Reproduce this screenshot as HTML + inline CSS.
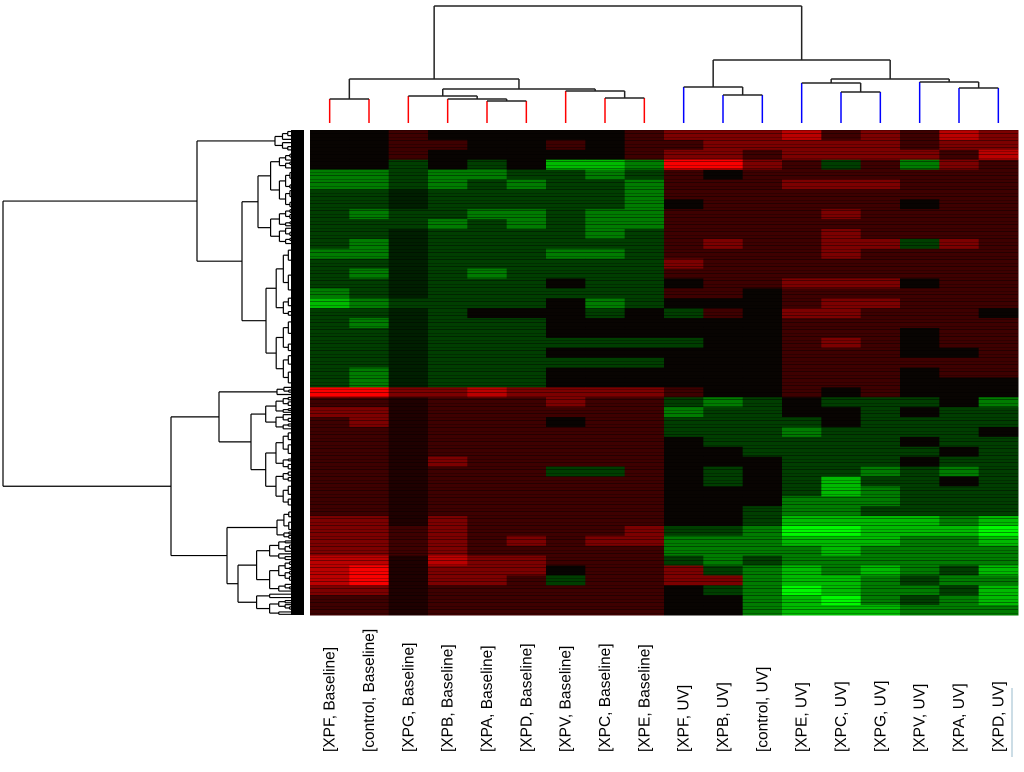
<!DOCTYPE html>
<html><head><meta charset="utf-8"><style>
body{margin:0;background:#fff;}
svg{display:block;font-family:"Liberation Sans",sans-serif;}
</style></head><body>
<svg id="chart" width="1024" height="772" viewBox="0 0 1024 772" xmlns="http://www.w3.org/2000/svg">
<defs><pattern id="stripes" width="10" height="7" patternUnits="userSpaceOnUse"><rect x="0" y="0" width="10" height="1" fill="rgba(0,0,0,0.4)"/><rect x="0" y="4" width="10" height="1" fill="rgba(0,0,0,0.25)"/></pattern></defs>
<g id="hm"></g>
<rect x="310" y="130" width="708" height="485" fill="url(#stripes)"/>
<g id="topdend" fill="none" stroke-width="1.5"></g>
<g id="leftdend" fill="none" stroke="#000" stroke-width="1.2"></g>
<rect x="291" y="130" width="13" height="485" fill="#000"/>
<g id="labels"></g>
<line x1="1012" y1="688" x2="1012" y2="757" stroke="#9bc" stroke-width="1"/>
</svg>
<script>
const columns=["[XPF, Baseline]","[control, Baseline]","[XPG, Baseline]","[XPB, Baseline]","[XPA, Baseline]","[XPD, Baseline]","[XPV, Baseline]","[XPC, Baseline]","[XPE, Baseline]","[XPF, UV]","[XPB, UV]","[control, UV]","[XPE, UV]","[XPC, UV]","[XPG, UV]","[XPV, UV]","[XPA, UV]","[XPD, UV]"];
const rowsValues=[
[0,0,1,0,0,0,0,0,1,2,2,2,3,1,2,1,3,2],
[0,0,1,1,0,0,1,0,1,1,2,2,2,2,2,1,2,2],
[0,0,1,0,0,0,0,0,1,2,2,1,2,2,2,2,1,3],
[0,0,-1,0,-1,0,-3,-3,-2,4,4,2,1,-1,1,-2,2,1],
[-2,-2,-1,-2,-2,-1,-1,-2,-1,1,0,1,1,1,1,1,1,1],
[-2,-2,-1,-2,-1,-2,-1,-1,-2,1,1,1,2,2,2,1,1,1],
[-1,-1,-0.5,-1,-1,-1,-1,-1,-2,1,1,1,1,1,1,1,1,1],
[-1,-1,-0.5,-1,-1,-1,-1,-1,-2,0,1,1,1,1,1,0,1,1],
[-1,-2,-1,-1,-2,-2,-1,-2,-2,1,1,1,1,2,1,1,1,1],
[-1,-1,-1,-2,-1,-2,-1,-2,-2,1,1,1,1,1,1,1,1,1],
[-1,-1,-0.5,-1,-1,-1,-1,-2,-1,1,1,1,1,2,1,1,1,1],
[-1,-2,-0.5,-1,-1,-1,-1,-1,-1,1,2,1,1,2,2,-1,2,1],
[-2,-2,-0.5,-1,-1,-1,-2,-2,-1,1,1,1,1,2,1,1,1,1],
[-1,-1,-0.5,-1,-1,-1,-1,-1,-1,2,1,1,1,1,1,1,1,1],
[-1,-2,-0.5,-1,-2,-1,-1,-1,-1,1,1,1,1,1,1,1,1,1],
[-1,-1,-0.5,-1,-1,-1,0,-1,-1,0,1,1,2,2,2,0,1,1],
[-2,-1,-0.5,-1,-1,-1,-1,-1,-1,1,1,0,1,1,1,1,1,1],
[-3,-2,-1,-1,-1,-1,0,-2,-1,0,0,0,1,2,2,1,1,1],
[-1,-1,-0.5,-1,0,0,0,-1,0,-1,1,0,2,2,1,1,1,0],
[-1,-2,-0.5,-1,-1,-1,0,0,0,0,0,0,1,1,1,1,1,1],
[-1,-1,-0.5,-1,-1,-1,0,0,0,0,0,0,1,1,1,0,1,1],
[-1,-1,-0.5,-1,-1,-1,-1,-1,-1,-1,0,0,1,2,1,0,1,1],
[-1,-1,-0.5,-1,-1,-1,0,0,0,0,0,0,1,1,1,0,0,1],
[-1,-1,-0.5,-1,-1,-1,-1,-1,-1,0,0,0,1,1,1,1,1,1],
[-1,-2,-0.5,-1,-1,-1,0,0,0,0,0,0,1,1,1,0,1,1],
[-1,-2,-0.5,-1,-1,-1,0,0,0,0,0,0,1,1,1,0,0,0],
[4,4,2,2,3,2,2,2,2,1,0,0,1,0,1,0,0,0],
[1,1,0.5,1,1,1,2,1,1,-1,-2,-1,0,-1,-1,-1,0,-2],
[2,2,0.5,1,1,1,1,1,1,-2,-1,-1,0,0,-1,0,-1,-1],
[1,2,0.5,1,1,1,0,1,1,-1,-1,-1,-1,0,-1,-1,-1,-1],
[1,1,0.5,1,1,1,1,1,1,-1,-1,-1,-2,-1,-1,-1,-1,0],
[1,1,0.5,1,1,1,1,1,1,0,-1,-1,-1,-1,-1,0,-1,-1],
[1,1,0.5,1,1,1,1,1,1,0,0,-1,-1,-1,-1,-1,0,-1],
[1,1,0.5,2,1,1,1,1,1,0,0,0,-1,-1,-1,0,-1,-1],
[1,1,0.5,1,1,1,-1,-1,1,0,-1,0,-1,-1,-2,-1,-2,-1],
[1,1,0.5,1,1,1,1,1,1,0,-1,0,-1,-3,-1,-1,0,-1],
[1,1,0.5,1,1,1,1,1,1,0,0,0,-1,-3,-2,-1,-1,-1],
[1,1,0.5,1,1,1,1,1,1,0,0,0,-2,-2,-2,-1,-1,-1],
[1,1,0.5,1,1,1,1,1,1,0,0,-1,-2,-2,-1,-1,-1,-1],
[2,2,0.5,2,1,1,1,1,1,0,0,-1,-3,-3,-3,-3,-2,-3],
[2,2,1,2,1,1,1,1,2,-1,-1,-2,-4,-4,-3,-3,-3,-4],
[2,2,1,2,1,2,1,2,2,-2,-2,-2,-3,-3,-3,-2,-2,-3],
[2,2,1,2,1,1,1,1,1,-2,-2,-2,-2,-3,-2,-2,-2,-2],
[3,3,0.5,3,2,2,1,1,1,-1,-2,-1,-2,-2,-2,-2,-2,-2],
[3,4,0.5,2,2,2,0,1,1,2,-1,-2,-3,-2,-3,-2,-1,-3],
[3,4,0.5,2,2,1,-1,1,1,2,2,-2,-3,-3,-2,-1,-2,-2],
[2,2,0.5,1,1,1,1,1,1,0,-1,-2,-4,-3,-2,-2,-1,-3],
[1,1,0.5,1,1,1,1,1,1,0,0,-2,-3,-4,-2,-1,-2,-3],
[1,1,0.5,1,1,1,1,1,1,0,0,-2,-3,-3,-3,-2,-2,-2]];
const leafColors=["red","red","red","red","red","red","red","red","red","blue","blue","blue","blue","blue","blue","blue","blue","blue"];
const topTree=[[[0,1,99],[[2,[3,[4,5,101],99],96],[6,[7,8,98],91],89],79],[[9,[10,11,95],87],[[12,[13,14,92],83],[15,[16,17,88],82],79],60],6];

const NS="http://www.w3.org/2000/svg";
const X0=310,X1=1018,Y0=130,Y1=615;
const colW=(X1-X0)/columns.length;
const rowH=(Y1-Y0)/rowsValues.length;
const xScale=i=>X0+i*colW;
const xCenter=i=>X0+(i+0.5)*colW;
const yScale=r=>Y0+r*rowH;
function color(v){const c=Math.min(255,Math.round(Math.abs(v)*62));return v>0?`rgb(${c},0,0)`:(v<0?`rgb(0,${c},0)`:'rgb(8,4,2)');}
const hm=document.getElementById('hm');
rowsValues.forEach((row,r)=>row.forEach((v,c)=>{
  const el=document.createElementNS(NS,'rect');
  
  
  el.setAttribute('x',xScale(c));el.setAttribute('y',yScale(r));
  el.setAttribute('width',colW+0.5);el.setAttribute('height',rowH+0.5);
  el.setAttribute('fill',color(v));hm.appendChild(el);
}));
const lab=document.getElementById('labels');
columns.forEach((t,i)=>{
  const el=document.createElementNS(NS,'text');
  
  
  const x=xCenter(i)+5;
  el.setAttribute('transform',`translate(${x},752) rotate(-90)`);
  el.setAttribute('font-size','15.5');el.setAttribute('fill','#000');
  el.textContent=t;lab.appendChild(el);
});
const td=document.getElementById('topdend');
function ln(g,x1,y1,x2,y2,col,name){
  const el=document.createElementNS(NS,'line');
  
  
  el.setAttribute('x1',x1);el.setAttribute('y1',y1);el.setAttribute('x2',x2);el.setAttribute('y2',y2);
  if(col)el.setAttribute('stroke',col);g.appendChild(el);
}
const LEAFY=123;
function drawTop(n){
  if(typeof n==='number'){return {x:xCenter(n),y:null,leaf:n};}
  const a=drawTop(n[0]),b=drawTop(n[1]),h=n[2];
  [a,b].forEach(c=>{
    if(c.leaf!==undefined) ln(td,c.x,h,c.x,LEAFY,leafColors[c.leaf],'column-dendrogram-leaf-branch');
    else ln(td,c.x,h,c.x,c.y,'#222','column-dendrogram-branch');
  });
  ln(td,a.x,h,b.x,h,'#222','column-dendrogram-link');
  return {x:(a.x+b.x)/2,y:h};
}
drawTop(topTree);
const ld=document.getElementById('leftdend');
let depthCount=0;
function sub(y0,y1,x){
  if(y1-y0<3.5) return {c:(y0+y1)/2,x:300};
  depthCount++;
  const f=0.3+0.4*((depthCount*7)%5)/4;
  const ym=y0+(y1-y0)*f;
  const cx=x+(300-x)*0.3;
  const a=sub(y0,ym,cx),b=sub(ym,y1,cx);
  ln(ld,x,a.c,x,b.c,null,'row-dendrogram-branch');
  ln(ld,x,a.c,a.x,a.c,null,'row-dendrogram-link');
  ln(ld,x,b.c,b.x,b.c,null,'row-dendrogram-link');
  return {c:(a.c+b.c)/2,x:x};
}
function node(x,a,b){
  ln(ld,x,a.c,x,b.c,null,'row-dendrogram-branch');
  ln(ld,x,a.c,a.x,a.c,null,'row-dendrogram-link');
  ln(ld,x,b.c,b.x,b.c,null,'row-dendrogram-link');
  return {c:(a.c+b.c)/2,x:x};
}
const t1=sub(130,152,275);
const t2=node(242,sub(153,245,258),sub(245,388,266));
const topClust=node(197,t1,t2);
const b1=node(219,sub(386,396,277),sub(396,510,251));
const b2=node(227,sub(510,540,277),sub(540,615,238));
const botClust=node(171,b1,b2);
node(3,topClust,botClust);
</script>
</body></html>
